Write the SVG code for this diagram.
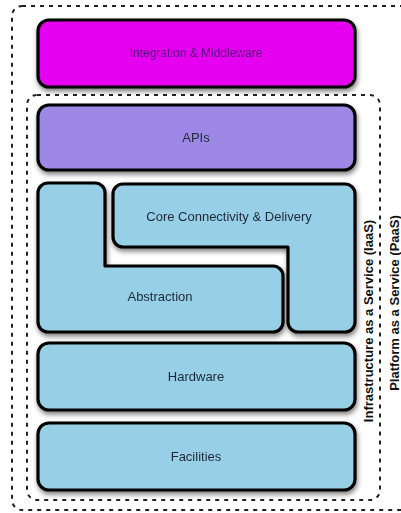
<svg xmlns="http://www.w3.org/2000/svg" width="401" height="513" viewBox="0 0 401 513">
<style>
.box{stroke:#000;stroke-width:3.2;stroke-linejoin:round}
.cyan{fill:#96cfe6}
.lbl{font-family:"Liberation Sans",Arial,sans-serif;font-size:13px;fill:#1c2a38;text-anchor:middle}
.side{font-family:"Liberation Sans",Arial,sans-serif;font-size:13px;font-weight:bold;fill:#111;text-anchor:middle}
.dash{fill:none;stroke:#222;stroke-width:2;stroke-dasharray:4 5}
</style>
<defs>
<filter id="sh" x="-10%" y="-20%" width="130%" height="150%">
<feGaussianBlur in="SourceAlpha" stdDeviation="2.5"/>
<feOffset dx="1" dy="3" result="b"/>
<feComponentTransfer><feFuncA type="linear" slope="0.5"/></feComponentTransfer>
<feMerge><feMergeNode/><feMergeNode in="SourceGraphic"/></feMerge>
</filter>
</defs>
<rect width="401" height="513" fill="#fff"/>
<g id="connectors">
<rect id="paas-boundary" class="dash" x="12" y="6" width="420" height="504" rx="10"/>
<rect id="iaas-boundary" class="dash" x="27" y="95" width="353" height="405" rx="10"/>
</g>
<g id="integration" filter="url(#sh)">
<rect class="box" x="38" y="20" width="317" height="67" rx="11" fill="#e600f0"/>
<text class="lbl" x="196" y="57" style="fill:#55107a;font-size:12px">Integration &amp; Middleware</text>
</g>
<g id="apis" filter="url(#sh)">
<rect class="box" x="38" y="105" width="317" height="65" rx="11" fill="#9d88e6"/>
<text class="lbl" x="196" y="142">APIs</text>
</g>
<g id="abstraction" filter="url(#sh)">
<path class="box cyan" d="M48,183 H95 A10,10 0 0 1 105,193 V266 H273 A10,10 0 0 1 283,276 V322 A10,10 0 0 1 273,332 H48 A10,10 0 0 1 38,322 V193 A10,10 0 0 1 48,183 Z"/>
<text class="lbl" x="160" y="301">Abstraction</text>
</g>
<g id="core" filter="url(#sh)">
<path class="box cyan" d="M123,184 H345 A10,10 0 0 1 355,194 V322 A10,10 0 0 1 345,332 H298 A10,10 0 0 1 288,322 V247 H123 A10,10 0 0 1 113,237 V194 A10,10 0 0 1 123,184 Z"/>
<text class="lbl" x="229" y="221">Core Connectivity &amp; Delivery</text>
</g>
<g id="hardware" filter="url(#sh)">
<rect class="box cyan" x="38" y="343" width="317" height="67" rx="11"/>
<text class="lbl" x="196" y="381">Hardware</text>
</g>
<g id="facilities" filter="url(#sh)">
<rect class="box cyan" x="38" y="423" width="317" height="67" rx="11"/>
<text class="lbl" x="196" y="461">Facilities</text>
</g>
<g id="iaas-label">
<text class="side" transform="translate(373,321) rotate(-90)">Infrastructure as a Service (IaaS)</text>
</g>
<g id="paas-label">
<text class="side" transform="translate(399,303) rotate(-90)">Platform as a Service (PaaS)</text>
</g>
</svg>
